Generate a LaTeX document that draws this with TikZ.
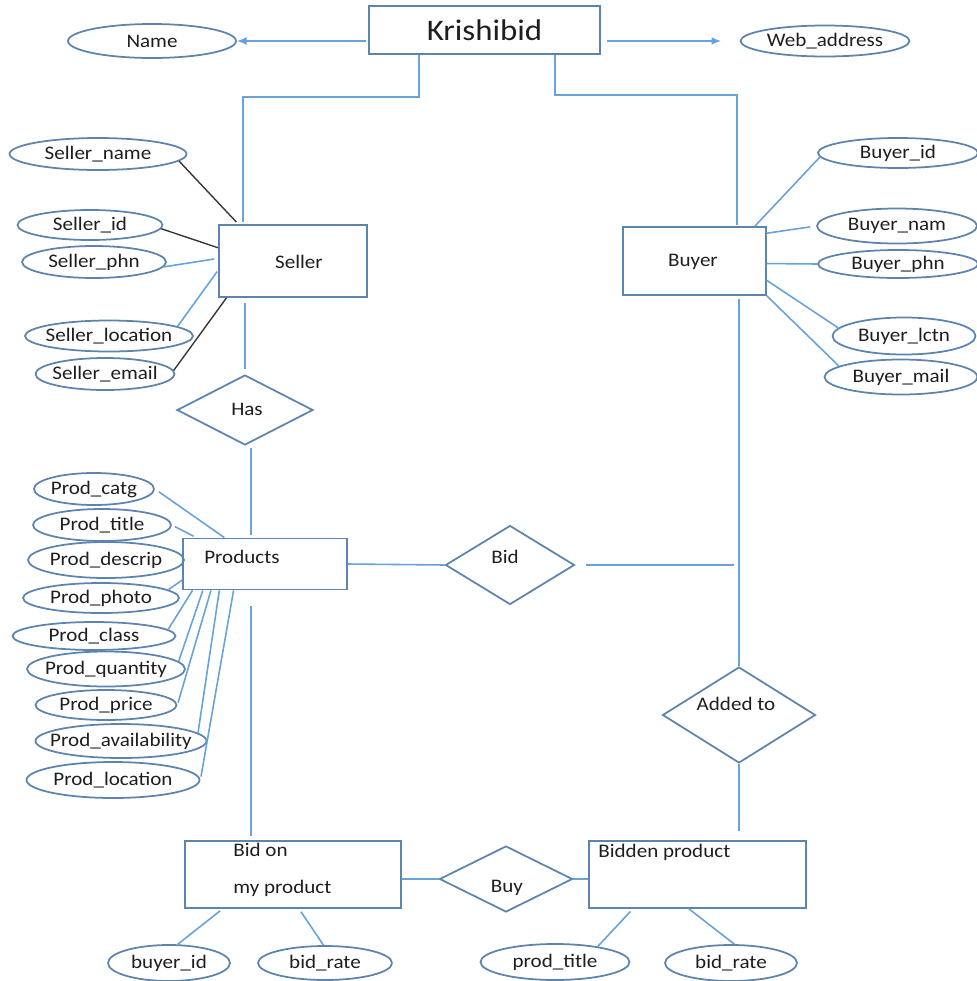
\documentclass[tikz,border=0pt]{standalone}
\usepackage{fontspec}
\setmainfont{Carlito}[FakeStretch=1.1]
\usetikzlibrary{shapes.geometric,arrows.meta}

\definecolor{boxblue}{RGB}{92,132,174}
\definecolor{linkblue}{RGB}{104,162,218}
\definecolor{darkline}{RGB}{56,56,56}
\definecolor{txtgray}{RGB}{30,30,30}

% text of zero width, so the ellipse keeps its own size
\newcommand{\attrtxt}[1]{\makebox[0pt]{#1}}

\tikzset{
  attr/.style={ellipse, draw=boxblue, line width=1pt, inner sep=0pt,
    font=\fontsize{10.9}{12}\selectfont, text=txtgray},
  entity/.style={rectangle, draw=boxblue, line width=1pt, inner sep=0pt},
  relation/.style={diamond, draw=boxblue, line width=1pt, inner sep=0pt},
  lbl/.style={inner sep=0pt, font=\fontsize{10.9}{12}\selectfont, text=txtgray},
  conn/.style={draw=linkblue, line width=0.9pt},
  darkconn/.style={draw=darkline, line width=0.8pt},
  tip/.style={-{Latex[length=5.5pt,width=4.5pt]}},
}

\begin{document}
\begin{tikzpicture}[x=0.02cm, y=-0.02cm]
    \useasboundingbox (0,0) rectangle (977,981);

    % Top entity and its attributes
    \node[entity, minimum width=4.62cm, minimum height=0.96cm,
      font=\fontsize{17}{20}\selectfont, text=txtgray] (kb) at (484.5,30) {Krishibid};
    \node[attr, minimum width=3.36cm, minimum height=0.68cm] (name) at (152,41) {\attrtxt{Name}};
    \node[attr, minimum width=3.38cm, minimum height=0.62cm] (web) at (825,41) {\attrtxt{Web\_address}};
    \draw[conn, tip, shorten <=1pt] (kb.west |- name) -- (name.east);
    \draw[conn, tip, shorten <=3.4pt, shorten >=10.5pt] (kb.east |- web) -- (web.west);

    % Seller and Buyer
    \node[entity, minimum width=2.96cm, minimum height=1.44cm] (seller) at (293,261) {};
    \node[lbl] (sellerlbl) at (299,262) {Seller};
    \node[entity, minimum width=2.86cm, minimum height=1.36cm] (buyer) at (694.5,261) {};
    \node[lbl] (buyerlbl) at (693,262) {Buyer};

    \coordinate (jl) at (419,97);
    \coordinate (sellerin) at (243,222);
    \coordinate (jr) at (555,95);
    \coordinate (buyerin) at (737,225);
    \draw[conn] (kb.south -| jl) -- (jl) -| (sellerin);
    \draw[conn] (kb.south -| jr) -- (jr) -| (buyerin);

    % Seller attributes
    \node[attr, minimum width=3.54cm, minimum height=0.64cm] (sname) at (98,154) {\attrtxt{Seller\_name}};
    \node[attr, minimum width=2.90cm, minimum height=0.60cm] (sid) at (90,225) {\attrtxt{Seller\_id}};
    \node[attr, minimum width=2.88cm, minimum height=0.64cm] (sphn) at (94,262) {\attrtxt{Seller\_phn}};
    \node[attr, minimum width=3.36cm, minimum height=0.62cm] (sloc) at (109,336) {\attrtxt{Seller\_location}};
    \node[attr, minimum width=2.78cm, minimum height=0.64cm] (semail) at (105,374) {\attrtxt{Seller\_email}};
    \draw[darkconn, shorten >=1.7pt] (sname.-5) -- (seller.146);
    \draw[darkconn] (sid.-3) -- (seller.170);
    \draw[conn, shorten >=2.3pt] (sphn.-4) -- (seller.178);
    \draw[conn, shorten >=1pt] (sloc.8) -- (seller.187);
    \draw[darkconn] (semail.3) -- (seller.209);

    % Buyer attributes
    \node[attr, minimum width=3.20cm, minimum height=0.60cm] (byid) at (898,153) {\attrtxt{Buyer\_id}};
    \node[attr, minimum width=3.20cm, minimum height=0.70cm] (bnam) at (897,226) {\attrtxt{Buyer\_nam}};
    \node[attr, minimum width=3.20cm, minimum height=0.56cm] (bphn) at (898,264) {\attrtxt{Buyer\_phn}};
    \node[attr, minimum width=2.86cm, minimum height=0.74cm] (blctn) at (904,336) {\attrtxt{Buyer\_lctn}};
    \node[attr, minimum width=3.06cm, minimum height=0.70cm] (bmail) at (901,377) {\attrtxt{Buyer\_mail}};
    \draw[conn] (buyer.30) -- (byid.183);
    \draw[conn, shorten >=3.4pt] (buyer.21) -- (bnam.west);
    \draw[conn] (buyer.-2) -- (bphn.west);
    \draw[conn] (buyer.-15.6) -- (blctn.173);
    \draw[conn] (buyer.south east) -- (bmail.170);

    % Has
    \node[relation, minimum width=2.72cm, minimum height=1.40cm] (has) at (245,410) {};
    \node[lbl] (haslbl) at (247,409) {Has};
    \draw[conn, shorten <=2.8pt, shorten >=2.8pt] (has.north |- seller.south) -- (has.north);

    % Products and its attributes
    \node[entity, minimum width=3.28cm, minimum height=1.02cm] (prod) at (265,564) {};
    \node[lbl] (prodlbl) at (242,557) {Products};
    \coordinate (lspine) at (251,0);
    \draw[conn, shorten <=1pt, shorten >=1.7pt] (lspine |- has.south) -- (lspine |- prod.north);

    \node[attr, minimum width=2.40cm, minimum height=0.64cm] (pcatg) at (94,489) {\attrtxt{Prod\_catg}};
    \node[attr, minimum width=2.76cm, minimum height=0.64cm] (ptitle) at (102,525) {\attrtxt{Prod\_title}};
    \node[attr, minimum width=3.12cm, minimum height=0.72cm] (pdescrip) at (106,560) {\attrtxt{Prod\_descrip}};
    \node[attr, minimum width=3.12cm, minimum height=0.60cm] (pphoto) at (101,598) {\attrtxt{Prod\_photo}};
    \node[attr, minimum width=3.26cm, minimum height=0.56cm] (pclass) at (94,636) {\attrtxt{Prod\_class}};
    \node[attr, minimum width=3.16cm, minimum height=0.70cm] (pqty) at (106,669) {\attrtxt{Prod\_quantity}};
    \node[attr, minimum width=2.82cm, minimum height=0.60cm] (pprice) at (106,705) {\attrtxt{Prod\_price}};
    \node[attr, minimum width=3.42cm, minimum height=0.68cm] (pavail) at (121,741) {\attrtxt{Prod\_availability}};
    \node[attr, minimum width=3.46cm, minimum height=0.72cm] (ploc) at (113,780) {\attrtxt{Prod\_location}};
    \draw[conn, shorten <=2.8pt] (pcatg.east) -- (prod.147);
    \draw[conn, shorten <=2pt, shorten >=1.7pt] (ptitle.east) -- (prod.159);
    \draw[conn] (pphoto.7) -- (prod.191);
    \draw[conn] (pclass.5) -- (prod.200);
    \draw[conn] (pqty.6) -- (prod.203);
    \draw[conn, shorten <=1.4pt] (pprice.east) -- (prod.206);
    \draw[conn] (pavail.6) -- (prod.210);
    \draw[conn, shorten <=2pt] (ploc.east) -- (prod.220);

    % Bid
    \node[relation, minimum width=2.58cm, minimum height=1.58cm] (bid) at (510,565) {};
    \node[lbl] (bidlbl) at (505,557) {Bid};
    \coordinate (rspine) at (739,0);
    \draw[conn] (prod.east) -- (bid.west);
    \draw[conn, shorten <=6pt, shorten >=2.8pt] (bid.east) -- (bid.east -| rspine);

    % Added to
    \node[relation, minimum width=3.06cm, minimum height=1.92cm] (added) at (739,715) {};
    \node[lbl] (addedlbl) at (736,704) {Added to};
    \draw[conn, shorten <=1.7pt] (rspine |- buyer.south) -- (added.north);

    % Bottom entities
    \node[entity, minimum width=4.32cm, minimum height=1.34cm] (bidon) at (293,874.5) {};
    \node[lbl, align=left, anchor=west] (bidonlbl) at (233,870) {Bid on\\[9pt]my product};
    \node[relation, minimum width=2.66cm, minimum height=1.32cm] (buy) at (506,879) {};
    \node[lbl] (buylbl) at (507,888) {Buy};
    \node[entity, minimum width=4.34cm, minimum height=1.34cm] (bidden) at (697.5,874.5) {};
    \node[lbl, anchor=west] (biddenlbl) at (598,852) {Bidden product};
    \draw[conn, shorten <=9pt, shorten >=2.3pt] (lspine |- prod.south) -- (lspine |- bidon.north);
    \draw[conn, shorten >=5pt] (added.south) -- (added.south |- bidden.north);
    \draw[conn] (bidon.east |- buy.west) -- (buy.west);
    \draw[conn] (buy.east) -- (buy.east -| bidden.west);

    % Bottom attributes
    \node[attr, minimum width=2.44cm, minimum height=0.72cm] (bbyid) at (169,963) {\attrtxt{buyer\_id}};
    \node[attr, minimum width=2.68cm, minimum height=0.68cm] (brate1) at (325,963) {\attrtxt{bid\_rate}};
    \node[attr, minimum width=2.98cm, minimum height=0.72cm] (bptitle) at (555,962) {\attrtxt{prod\_title}};
    \node[attr, minimum width=2.64cm, minimum height=0.72cm] (brate2) at (731,963) {\attrtxt{bid\_rate}};
    \draw[conn, shorten <=1.7pt] (bidon.206.6) -- (bbyid.65);
    \draw[conn, shorten <=2pt] (bidon.280) -- (brate1.95);
    \draw[conn, shorten <=2pt] (bidden.208.2) -- (bptitle.20);
    \draw[conn] (bidden.256) -- (brate2.80);
\end{tikzpicture}
\end{document}
